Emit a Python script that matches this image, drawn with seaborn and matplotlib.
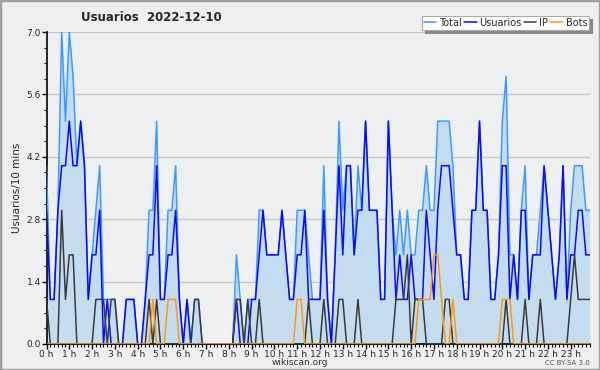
import numpy as np
import pandas as pd
import matplotlib
matplotlib.use("Agg")
import matplotlib.pyplot as plt
from matplotlib.ticker import MultipleLocator, FixedLocator
from matplotlib.patches import Rectangle
import seaborn as sns

title = "Usuarios  2022-12-10"
series_names = ["Total", "Usuarios", "IP", "Bots"]
hour_labels = [f"{h} h" for h in range(24)]
y_ticks = [0.0, 1.4, 2.8, 4.2, 5.6, 7.0]

usuarios = [3,1,1,3,4,4,5,4,4,5,4,1,2,2,3,0,1,0,0,0,0,1,1,1,0,0,1,
            2,2,4,1,1,2,2,3,1,0,1,0,0,0,0,0,0,0,0,0,0,0,0,
            1,0,0,0,1,1,2,3,2,2,2,2,3,2,1,1,2,2,3,1,1,1,1,3,1,0,2,4,2,4,4,2,3,3,5,
            3,3,3,1,1,5,3,1,2,1,1,2,1,1,1,3,2,1,3,4,4,4,3,2,2,1,1,3,3,5,
            3,3,1,1,2,4,4,1,2,1,3,3,1,2,2,2,4,3,2,1,2,4,1,2,2,3,3,2,2]
ip = [1,0,0,0,3,1,2,2,0,0,0,0,0,1,1,1,0,1,1,0,0,0,0,0,0,0,0,
      1,0,1,0,0,0,0,0,0,0,0,0,1,1,0,0,0,0,0,0,0,0,0,
      1,1,0,1,0,0,1,0,0,0,0,0,0,0,0,0,0,0,0,1,0,0,0,1,0,0,0,1,1,0,0,0,1,0,0,
      0,0,0,0,0,0,0,1,1,1,2,0,1,1,1,0,0,0,0,0,1,1,0,0,0,0,0,0,0,0,
      0,0,0,0,0,0,1,0,0,0,0,1,0,0,0,1,0,0,0,0,0,0,0,1,2,1,1,1,1]
bots = [0,0,0,0,0,0,0,0,0,0,0,0,0,0,0,0,0,0,0,0,0,0,0,0,0,0,0,
        0,1,0,0,0,1,1,1,0,0,0,0,0,0,0,0,0,0,0,0,0,0,0,
        0,0,0,0,0,0,0,0,0,0,0,0,0,0,0,0,1,1,0,0,0,0,0,0,0,0,0,0,0,0,0,0,0,0,0,
        0,0,0,0,0,0,0,0,0,0,0,0,0,1,1,1,1,2,2,1,0,0,1,0,0,0,0,0,0,0,
        0,0,0,0,0,1,1,1,0,0,0,0,0,0,0,0,0,0,0,0,0,0,0,0,0,0,0,0,0]
total = [4,1,1,3,7,5,7,6,4,5,4,1,2,3,4,1,1,1,1,0,0,1,1,1,0,0,1,
         3,3,5,1,1,3,3,4,1,0,1,0,1,1,0,0,0,0,0,0,0,0,0,
         2,1,0,1,1,1,3,3,2,2,2,2,3,2,1,1,3,3,3,2,1,1,1,4,1,0,2,5,3,4,4,2,4,3,5,
         3,3,3,1,1,5,3,2,3,2,3,2,2,3,3,4,3,3,5,5,5,5,4,2,2,1,1,3,3,5,
         3,3,1,1,2,5,6,2,2,1,3,4,1,2,2,3,4,3,2,1,2,4,1,3,4,4,4,3,3]

n = len(total)
hours = np.arange(n) / 6.0
df = pd.DataFrame({"hora": hours, "Total": total, "Usuarios": usuarios,
                   "IP": ip, "Bots": bots})
long = df.melt(id_vars="hora", value_vars=series_names,
               var_name="serie", value_name="valor")

sns.set_style("white")
plt.rcParams["font.family"] = ["DejaVu Sans"]

bg = "#eeeff1"
fig = plt.figure(figsize=(6.0, 3.7), dpi=100, facecolor=bg)
ax = fig.add_axes([0.0775, 0.0703, 0.9053, 0.8432])
ax.set_facecolor(bg)

palette = {"Total": "#3d9bff", "Usuarios": "#0a0aff", "IP": "#3a3a3a", "Bots": "#ff9a10"}
ax.fill_between(df["hora"], 0, df["Total"], color="#c4dcf0", lw=0, zorder=1)
sns.lineplot(data=long, x="hora", y="valor", hue="serie", hue_order=series_names,
             palette=palette, linewidth=1.1, ax=ax, legend=False, zorder=3)

ax.set_xlim(0, hours[-1])
ax.set_ylim(0, 7.0)
ax.yaxis.set_major_locator(FixedLocator(y_ticks))
ax.yaxis.set_minor_locator(MultipleLocator(0.35))
ax.set_yticklabels([f"{v:.1f}" for v in y_ticks])
ax.xaxis.set_major_locator(FixedLocator(list(range(24))))
ax.xaxis.set_minor_locator(MultipleLocator(1 / 6))
ax.set_xticklabels(hour_labels)
ax.tick_params(axis="both", which="major", length=3.5, width=1, color="black",
               labelsize=6.5, pad=0.5, direction="out", left=True, bottom=True)
ax.tick_params(axis="both", which="minor", length=2.5, width=0.8, color="black",
               direction="out", left=True, bottom=True)
ax.grid(axis="y", which="major", color="#c8c8c8", linewidth=1, zorder=0)
ax.set_axisbelow(True)
for s in ["top", "right"]:
    ax.spines[s].set_visible(False)
ax.spines["left"].set_color("black")
ax.spines["bottom"].set_color("black")
ax.spines["left"].set_linewidth(1.2)
ax.spines["bottom"].set_linewidth(1.2)
ax.set_xlabel("")
ax.set_ylabel("Usuarios/10 mins", fontsize=7.5, labelpad=3)

fig.text(0.252, 0.953, title, ha="center", va="center", fontsize=8.5, fontweight="bold")
fig.text(0.5, 0.019, "wikiscan.org", ha="center", va="center", fontsize=6.5, color="#333333")
fig.text(0.983, 0.019, "CC BY-SA 3.0", ha="right", va="center", fontsize=5, color="#555555")

handles = [plt.Line2D([], [], color=palette[s], lw=1.1) for s in series_names]
leg = fig.legend(handles, series_names, loc="upper right",
                 bbox_to_anchor=(0.982, 0.957), ncol=4, fontsize=7,
                 frameon=True, fancybox=False, shadow={"color": "#888888", "alpha": 1},
                 handlelength=1.3, handletextpad=0.3, columnspacing=0.2,
                 borderpad=0.2, borderaxespad=0)
leg.get_frame().set_edgecolor("#aaaaaa")
leg.get_frame().set_facecolor("white")
leg.get_frame().set_linewidth(0.8)

fig.patches.append(Rectangle((0, 0), 1, 1, transform=fig.transFigure, fill=False,
                             edgecolor="#a0a0a0", linewidth=2.5))

fig.savefig("out.png", dpi=100, facecolor=bg)
